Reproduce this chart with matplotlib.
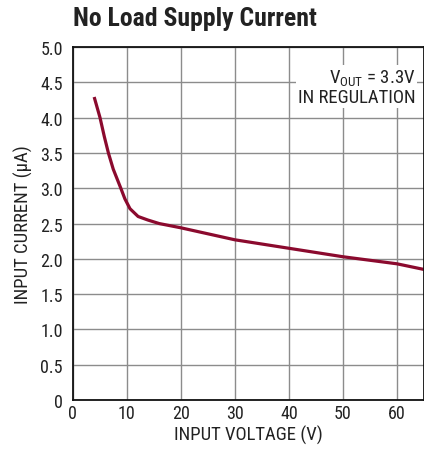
import matplotlib
matplotlib.use("Agg")
import matplotlib.pyplot as plt

# No load supply current vs input voltage
vin = [4.05, 5.05, 5.85, 6.6, 7.5, 8.9, 9.65, 10.6, 12.1, 13.9, 16.0, 20.0, 30.0, 40.0, 50.0, 60.0, 65.0]
iin = [4.27, 4.0, 3.73, 3.5, 3.27, 3.0, 2.85, 2.71, 2.6, 2.55, 2.5, 2.44, 2.27, 2.15, 2.03, 1.93, 1.85]

xticks = [0, 10, 20, 30, 40, 50, 60]
yticks = [0, 0.5, 1.0, 1.5, 2.0, 2.5, 3.0, 3.5, 4.0, 4.5, 5.0]
ylabels = ["0"] + ["%.1f" % v for v in yticks[1:]]

# condensed face like the datasheet, with fallbacks
plt.rcParams["font.family"] = ["Roboto Condensed", "Liberation Sans Narrow", "DejaVu Sans"]
plt.rcParams["mathtext.fontset"] = "custom"
plt.rcParams["mathtext.rm"] = "Roboto Condensed"

fig = plt.figure(figsize=(4.24, 4.6), dpi=100)
ax = fig.add_axes([0.1715, 0.128, 0.8285, 0.7677])

ax.plot(vin, iin, color="#8b0a2e", lw=2.3, solid_joinstyle="round")

ax.set_xlim(0, 65)
ax.set_ylim(0, 5)
ax.set_xticks(xticks)
ax.set_yticks(yticks)
ax.set_yticklabels(ylabels)
ax.tick_params(length=0, labelsize=13, colors="#222222")
ax.tick_params(axis="y", pad=7)
ax.tick_params(axis="x", pad=3)
ax.grid(True, color="#8c8c8c", lw=1.0)
ax.set_axisbelow(True)
for s in ax.spines.values():
    s.set_color("#111111")
    s.set_linewidth(1.3)

ax.set_xlabel("INPUT VOLTAGE (V)", fontsize=13.5, labelpad=2, color="#222222")
ax.set_ylabel("INPUT CURRENT (µA)", fontsize=13.5, labelpad=5, color="#222222")

fig.text(0.172, 0.958, "No Load Supply Current", fontsize=18.5, fontweight="bold",
         va="center", ha="left", color="#222222")

ax.text(0.975, 0.94, "V$_{\\mathrm{OUT}}$ = 3.3V\nIN REGULATION", transform=ax.transAxes,
        ha="right", va="top", fontsize=13.5, color="#222222", multialignment="right",
        linespacing=0.95,
        bbox=dict(boxstyle="square,pad=0.1", fc="white", ec="none"))

fig.savefig("out.png", dpi=100)
